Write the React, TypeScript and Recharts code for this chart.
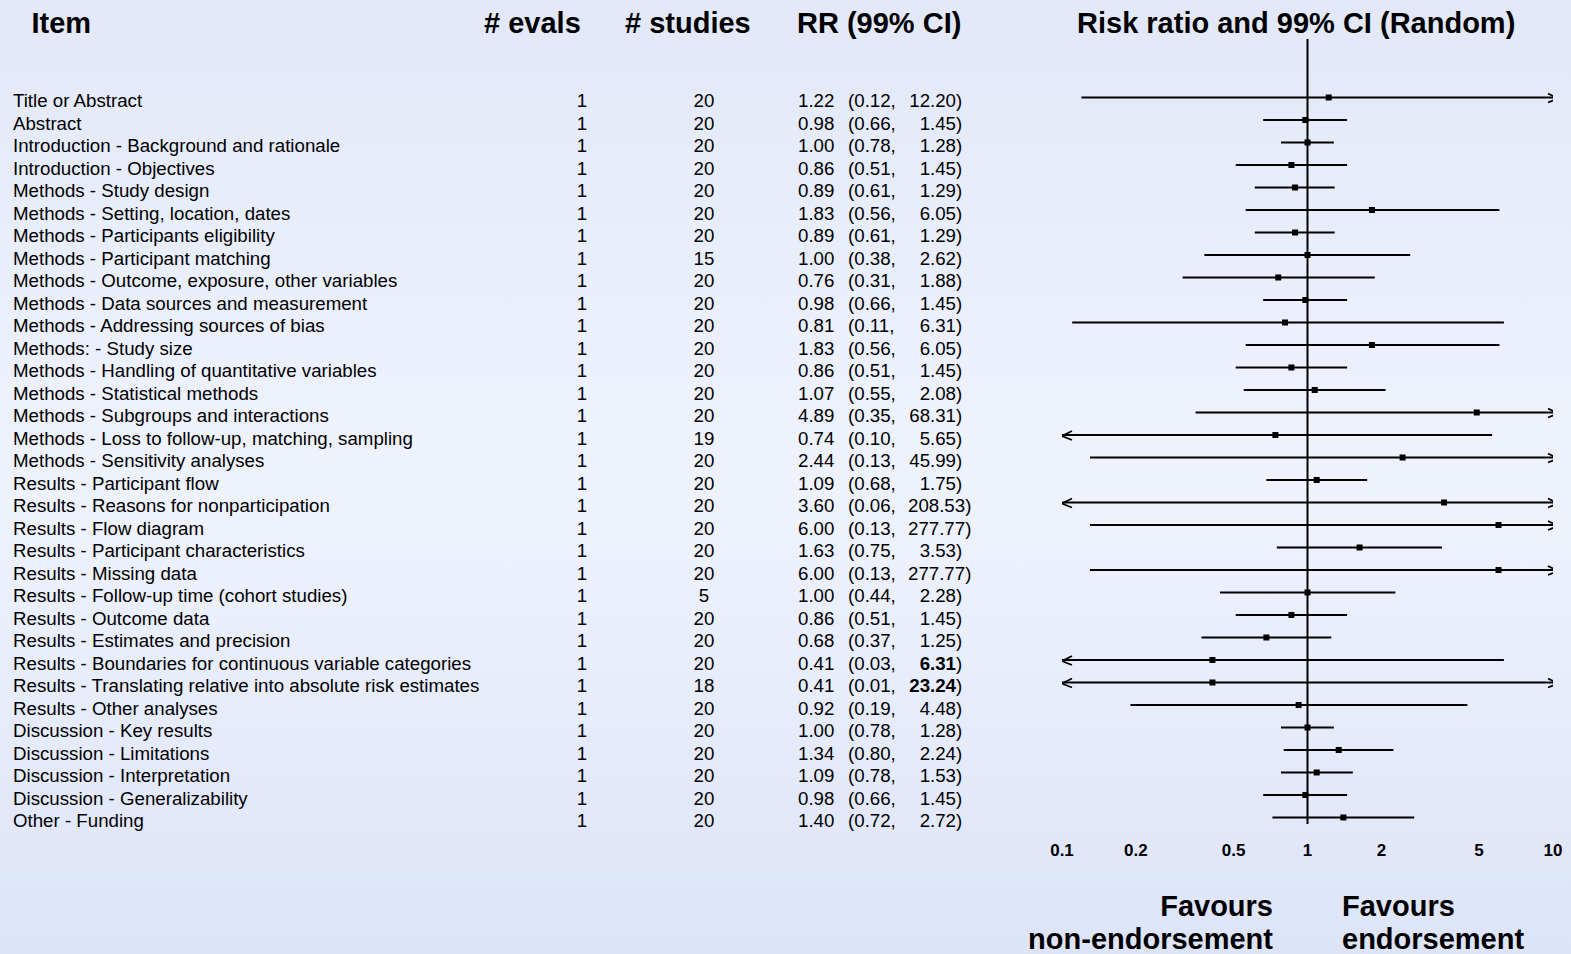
import React from 'react';
import { ScatterChart, Scatter, XAxis, YAxis, ReferenceLine } from 'recharts';

const items = [
  'Title or Abstract',
  'Abstract',
  'Introduction - Background and rationale',
  'Introduction - Objectives',
  'Methods - Study design',
  'Methods - Setting, location, dates',
  'Methods - Participants eligibility',
  'Methods - Participant matching',
  'Methods - Outcome, exposure, other variables',
  'Methods - Data sources and measurement',
  'Methods - Addressing sources of bias',
  'Methods: - Study size',
  'Methods - Handling of quantitative variables',
  'Methods - Statistical methods',
  'Methods - Subgroups and interactions',
  'Methods - Loss to follow-up, matching, sampling',
  'Methods - Sensitivity analyses',
  'Results - Participant flow',
  'Results - Reasons for nonparticipation',
  'Results - Flow diagram',
  'Results - Participant characteristics',
  'Results - Missing data',
  'Results - Follow-up time (cohort studies)',
  'Results - Outcome data',
  'Results - Estimates and precision',
  'Results - Boundaries for continuous variable categories',
  'Results - Translating relative into absolute risk estimates',
  'Results - Other analyses',
  'Discussion - Key results',
  'Discussion - Limitations',
  'Discussion - Interpretation',
  'Discussion - Generalizability',
  'Other - Funding',
];

const evals = [1, 1, 1, 1, 1, 1, 1, 1, 1, 1, 1, 1, 1, 1, 1, 1, 1, 1, 1, 1, 1, 1, 1, 1, 1, 1, 1, 1, 1, 1, 1, 1, 1];
const studies = [20, 20, 20, 20, 20, 20, 20, 15, 20, 20, 20, 20, 20, 20, 20, 19, 20, 20, 20, 20, 20, 20, 5, 20, 20, 20, 18, 20, 20, 20, 20, 20, 20];

const rr = [1.22, 0.98, 1.0, 0.86, 0.89, 1.83, 0.89, 1.0, 0.76, 0.98, 0.81, 1.83, 0.86, 1.07, 4.89, 0.74, 2.44, 1.09, 3.6, 6.0, 1.63, 6.0, 1.0, 0.86, 0.68, 0.41, 0.41, 0.92, 1.0, 1.34, 1.09, 0.98, 1.4];
const ciLow = [0.12, 0.66, 0.78, 0.51, 0.61, 0.56, 0.61, 0.38, 0.31, 0.66, 0.11, 0.56, 0.51, 0.55, 0.35, 0.1, 0.13, 0.68, 0.06, 0.13, 0.75, 0.13, 0.44, 0.51, 0.37, 0.03, 0.01, 0.19, 0.78, 0.8, 0.78, 0.66, 0.72];
const ciHigh = [12.2, 1.45, 1.28, 1.45, 1.29, 6.05, 1.29, 2.62, 1.88, 1.45, 6.31, 6.05, 1.45, 2.08, 68.31, 5.65, 45.99, 1.75, 208.53, 277.77, 3.53, 277.77, 2.28, 1.45, 1.25, 6.31, 23.24, 4.48, 1.28, 2.24, 1.53, 1.45, 2.72];
// upper limits printed in bold in the table
const boldHigh = [25, 26];

const xTicks = [0.1, 0.2, 0.5, 1, 2, 5, 10];
const X_MIN = 0.1;
const X_MAX = 10;

const FONT = "'Liberation Sans', Arial, Helvetica, sans-serif";

const rowIndex = items.map((_, i) => i);

const ciRows = items.map((_, i) => [
  { x: Math.max(ciLow[i], X_MIN), y: i, arrow: ciLow[i] <= X_MIN ? 'left' : '' },
  { x: Math.min(ciHigh[i], X_MAX), y: i, arrow: ciHigh[i] > X_MAX ? 'right' : '' },
]);

const points = items.map((_, i) => ({ x: rr[i], y: i }));

const ArrowEnd = (props: any) => {
  const { cx, cy, payload } = props;
  if (payload.arrow === 'left') {
    return (
      <path
        d={`M${cx + 10},${cy - 4} L${cx},${cy + 1} L${cx + 10},${cy + 5}`}
        fill="none"
        stroke="#000"
        strokeWidth={1.7}
      />
    );
  }
  if (payload.arrow === 'right') {
    return (
      <path
        d={`M${cx},${cy} L${cx + 5},${cy} M${cx - 5},${cy - 4} L${cx + 5},${cy + 1} L${cx - 5},${cy + 5}`}
        fill="none"
        stroke="#000"
        strokeWidth={1.7}
      />
    );
  }
  return <g />;
};

const Square = (props: any) => {
  const { cx, cy } = props;
  return <rect x={cx - 3} y={cy - 3} width={6} height={6} fill="#000" />;
};

const fmt = (v: number) => v.toFixed(2);

const RowTick = (props: any) => {
  const { y, payload } = props;
  const i = payload.value as number;
  if (i < 0 || i >= items.length) return <g />;
  const by = y + 10;
  const hi = ciHigh[i];
  const wide = hi >= 100;
  return (
    <g fontFamily={FONT} fontSize={18.7} fill="#000">
      <text x={13} y={by}>{items[i]}</text>
      <text x={582} y={by} textAnchor="middle">{evals[i]}</text>
      <text x={704} y={by} textAnchor="middle">{studies[i]}</text>
      <text x={798} y={by}>{fmt(rr[i])}</text>
      <text x={848} y={by}>({fmt(ciLow[i])},</text>
      {wide ? (
        <text x={908} y={by}>{fmt(hi)})</text>
      ) : (
        <>
          <text x={956} y={by} textAnchor="end" fontWeight={boldHigh.includes(i) ? 'bold' : 'normal'}>
            {fmt(hi)}
          </text>
          <text x={956} y={by}>)</text>
        </>
      )}
    </g>
  );
};

const XTick = (props: any) => {
  const { x, y, payload } = props;
  return (
    <text x={x} y={y + 24} textAnchor="middle" fontFamily={FONT} fontSize={17} fontWeight="bold" fill="#000">
      {payload.value}
    </text>
  );
};

const App = () => {
  return (
    <div
      style={{
        position: 'absolute',
        left: 0,
        top: 0,
        width: 1571,
        height: 954,
        overflow: 'hidden',
        background: 'linear-gradient(to bottom, #e2e8f8 0%, #eef2fd 45%, #eef2fd 55%, #dde4f8 100%)',
      }}
    >
      <ScatterChart width={1571} height={954} margin={{ top: 39, right: 18, bottom: 100, left: 0 }}>
        <XAxis
          type="number"
          dataKey="x"
          scale="log"
          domain={[X_MIN, X_MAX]}
          ticks={xTicks}
          interval={0}
          allowDataOverflow
          axisLine={false}
          tickLine={false}
          height={30}
          tick={(p: any) => <XTick {...p} />}
        />
        <YAxis
          type="number"
          dataKey="y"
          domain={[-2.6, 32.29]}
          reversed
          ticks={rowIndex}
          interval={0}
          allowDataOverflow
          axisLine={false}
          tickLine={false}
          width={1062}
          tick={(p: any) => <RowTick {...p} />}
        />
        <ReferenceLine x={1} stroke="#000" strokeWidth={2} ifOverflow="visible" />
        {ciRows.map((row, i) => (
          <Scatter
            key={`ci-${i}`}
            data={row}
            fill="#000"
            line={{ stroke: '#000', strokeWidth: 2 }}
            shape={(p: any) => <ArrowEnd {...p} />}
            isAnimationActive={false}
          />
        ))}
        <Scatter data={points} fill="#000" shape={(p: any) => <Square {...p} />} isAnimationActive={false} />
      </ScatterChart>
      <svg
        width={1571}
        height={954}
        style={{ position: 'absolute', left: 0, top: 0, pointerEvents: 'none' }}
        fontFamily={FONT}
        fontWeight="bold"
        fill="#000"
      >
        <text x={31.5} y={33} fontSize={29}>Item</text>
        <text x={484} y={33} fontSize={29}># evals</text>
        <text x={625} y={33} fontSize={29}># studies</text>
        <text x={797} y={33} fontSize={29}>RR (99% CI)</text>
        <text x={1077} y={33} fontSize={29}>Risk ratio and 99% CI (Random)</text>
        <text x={1273} y={916} fontSize={29} textAnchor="end">Favours</text>
        <text x={1273} y={949} fontSize={29} textAnchor="end">non-endorsement</text>
        <text x={1342} y={916} fontSize={29}>Favours</text>
        <text x={1342} y={949} fontSize={29}>endorsement</text>
      </svg>
    </div>
  );
};

export default App;
